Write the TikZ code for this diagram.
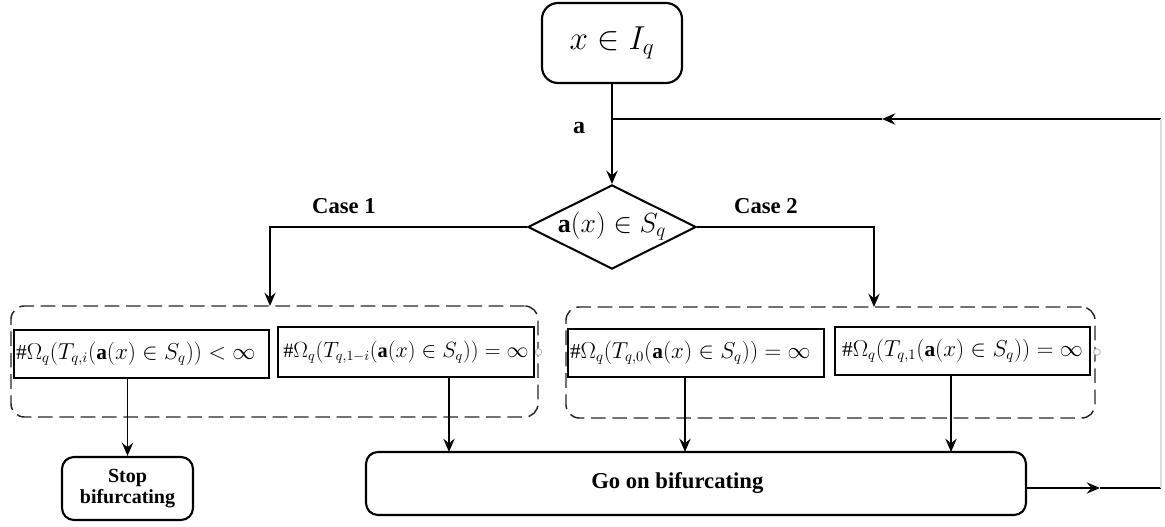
\documentclass[tikz,border=0pt]{standalone}
\usepackage{fontspec}
\usepackage{graphicx}
\setmainfont{Liberation Serif}
\usetikzlibrary{arrows.meta,shapes.geometric}
\begin{document}
\begin{tikzpicture}[x=0.75pt,y=-0.75pt,
  line width=1.4pt,
  >={Stealth[length=10pt,width=8.5pt,inset=3.5pt]},
  rbox/.style={draw, line width=1.6pt, rounded corners=9pt, inner sep=0pt, align=center},
  mbox/.style={draw, line width=1.8pt, inner sep=1.5pt, font=\fontsize{16}{19}\selectfont},
  grp/.style={draw=black!85, line width=1.1pt, dash pattern=on 11pt off 5pt, rounded corners=10pt, inner sep=0pt},
  lbl/.style={font=\fontsize{17}{20}\selectfont\bfseries},
  knob/.style={circle, draw=gray!60, fill=white, line width=0.6pt, inner sep=0pt, minimum size=5pt}
]
\useasboundingbox (0,0) rectangle (1165,527);

% start box
\node[rbox, minimum width=105pt, minimum height=60pt, rounded corners=12pt,
      font=\fontsize{23}{27}\selectfont] (start) at (612,43) {$x\in I_q$};
\coordinate (J) at (612,119);
\node[font=\fontsize{18}{20}\selectfont] (alab) at (579,128) {$\mathbf{a}$};

% decision
\node[diamond, draw, line width=1.5pt, aspect=2, inner sep=0pt,
      minimum width=124.5pt, minimum height=62pt,
      font=\fontsize{19.5}{22}\selectfont] (dec) at (612,227)
      {\raisebox{7pt}{$\mathbf{a}(x)\in S_q$}};

% case labels
\node[lbl] (case1) at (344,206) {Case 1};
\node[lbl] (case2) at (766,206) {Case 2};

% dashed groups
\node[grp, minimum width=395.25pt, minimum height=83.25pt] (grp1) at (274.5,361.5) {};
\node[grp, minimum width=396.75pt, minimum height=83.25pt] (grp2) at (830.5,362.5) {};
\node[knob] (k1) at (538.5,352) {};
\node[knob] (k2) at (1097,352) {};

% condition boxes
\node[mbox, minimum width=191.25pt, minimum height=36pt, text width=188pt, align=left]
  (bA) at (141.5,354) {$\#\Omega_q(T_{q,i}(\mathbf{a}(x)\in S_q))<\infty$};
\node[mbox, minimum width=192pt, minimum height=37.5pt, inner sep=0pt, align=center]
  (bB) at (406,352) {\scalebox{0.955}{$\#\Omega_q(T_{q,1-i}(\mathbf{a}(x)\in S_q))=\infty$}};
\node[mbox, minimum width=192pt, minimum height=36pt, text width=189pt, align=left]
  (bC) at (696,353) {\raisebox{5pt}{$\#\Omega_q(T_{q,0}(\mathbf{a}(x)\in S_q))=\infty$}};
\node[mbox, minimum width=191.25pt, minimum height=36pt, align=center]
  (bD) at (962.5,351) {$\#\Omega_q(T_{q,1}(\mathbf{a}(x)\in S_q))=\infty$};

% result boxes
\node[rbox, minimum width=98.25pt, minimum height=47.25pt,
      font=\fontsize{15}{16}\selectfont\bfseries] (stop) at (127.5,488.5) {Stop\\bifurcating};
\node[rbox, minimum width=495pt, minimum height=47.25pt,
      font=\fontsize{17}{20}\selectfont\bfseries] (go) at (696,483.5) {\hspace*{-28pt}Go on bifurcating};

% loop coordinates
\coordinate (TR) at (1161,119);
\coordinate (TA) at (882,119);
\coordinate (BR) at (1161,488);
\coordinate (BA) at (1100,488);
\coordinate (c1) at (270,306);
\coordinate (c2) at (874,307);
\coordinate (xb) at (449,452);
\coordinate (xc) at (685,452);
\coordinate (xd) at (951,452);

% connectors
\draw (start) -- (J);
\draw[->] (J) -- (dec);
\draw[->] (TR) -- (TA);
\draw (TA) -- (J);
\draw[->] (dec.west) -| (c1);
\draw[->] (dec.east) -| (c2);
\draw[->] (bA.south -| stop) -- (stop);
\draw[->] (bB.south -| xb) -- (xb);
\draw[->] (bC.south -| xc) -- (xc);
\draw[->] (bD.south -| xd) -- (xd);
\draw[->] (go.east |- BR) -- (BA);
\draw (BA) -- (BR);
\draw[gray!30, line width=0.8pt] (BR) -- (TR);
\end{tikzpicture}
\end{document}
